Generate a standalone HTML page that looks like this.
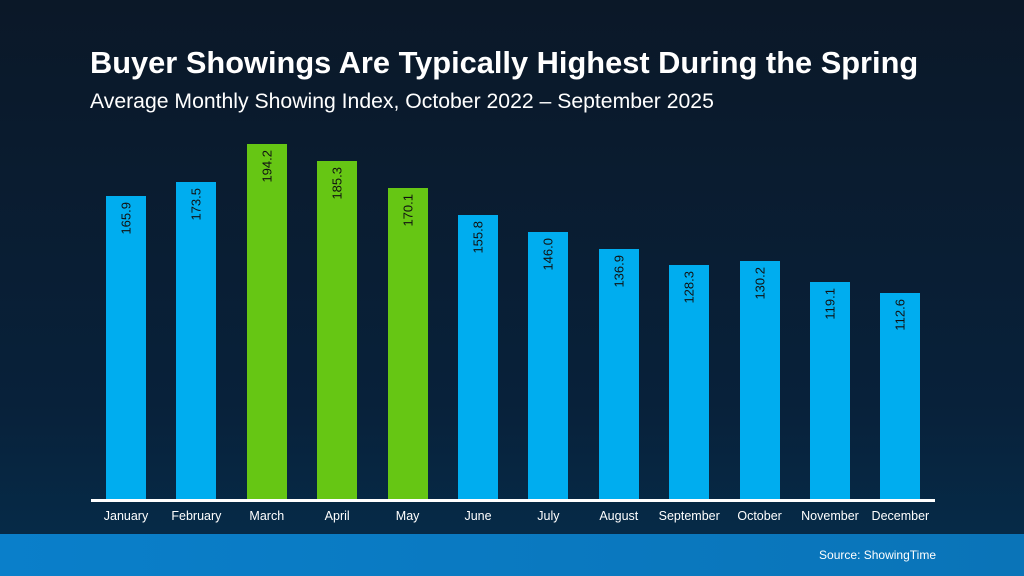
<!DOCTYPE html>
<html><head><meta charset="utf-8"><style>
*{margin:0;padding:0}
body{width:1024px;height:576px;overflow:hidden;position:relative;font-family:"Liberation Sans",Arial,sans-serif;background:linear-gradient(180deg,#0b1828 0%,#08213a 70%,#062a47 92%);}
.strip{position:absolute;left:0;top:534px;width:1024px;height:42px;background:linear-gradient(90deg,#0a7fca,#0a74b8);}
.src{position:absolute;right:88px;top:548px;color:#fff;font-size:12px}
h1{position:absolute;left:90px;top:45px;color:#fff;font-size:30.8px;font-weight:bold;white-space:nowrap}
h2{position:absolute;left:90px;top:90px;color:#fff;font-size:21.2px;font-weight:normal;white-space:nowrap}
.bar{position:absolute;width:40px;bottom:77px}
.b{background:#00adef}.g{background:#66c614}
.v{position:absolute;left:50%;top:6px;writing-mode:vertical-rl;transform:translateX(-50%) rotate(180deg);font-size:13px;color:#111;white-space:nowrap}
.axis{position:absolute;left:91px;top:499px;width:844px;height:3px;background:#fff}
.lab{position:absolute;top:509px;width:90px;text-align:center;color:#fff;font-size:12.5px}
</style></head><body>
<h1>Buyer Showings Are Typically Highest During the Spring</h1>
<h2>Average Monthly Showing Index, October 2022 – September 2025</h2>
<div id="c"></div>
<div class="axis"></div>
<div class="strip"></div>
<div class="src">Source: ShowingTime</div>
<script>
var d=[["January",165.9],["February",173.5],["March",194.2],["April",185.3],["May",170.1],["June",155.8],["July",146.0],["August",136.9],["September",128.3],["October",130.2],["November",119.1],["December",112.6]];
var h="";d.forEach(function(e,i){var x=106+i*70.4;var ht=e[1]*1.826;var c=(i>=2&&i<=4)?"g":"b";
h+='<div class="bar '+c+'" style="left:'+x+'px;height:'+ht+'px"><div class="v">'+e[1].toFixed(1)+'</div></div>';
h+='<div class="lab" style="left:'+(x-25)+'px">'+e[0]+'</div>';});
document.getElementById("c").innerHTML=h;
</script>
</body></html>
